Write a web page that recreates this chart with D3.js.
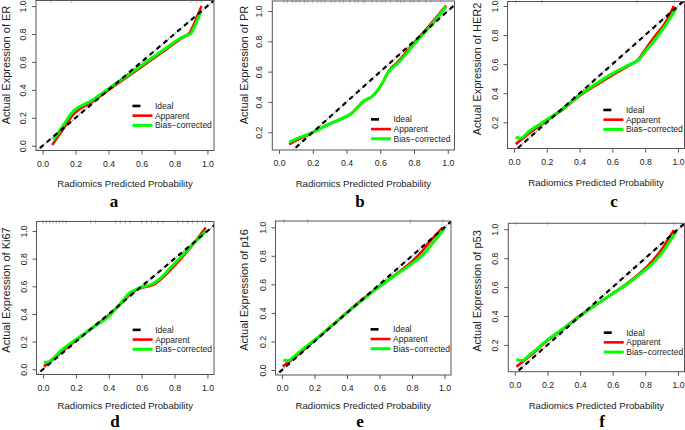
<!DOCTYPE html>
<html>
<head>
<meta charset="utf-8">
<script src="https://cdn.jsdelivr.net/npm/d3@7"></script>
<style>
  body { margin: 0; background: #fff; }
  svg { display: block; font-family: "Liberation Sans", Arial, sans-serif; }
</style>
</head>
<body>
<svg id="chart" width="685" height="430"></svg>
<script>
// ---- data ----
const xTicks = [0, 0.2, 0.4, 0.6, 0.8, 1.0];
const yTicksFull = [0, 0.2, 0.4, 0.6, 0.8, 1.0];
const yTicksUpper = [0.2, 0.4, 0.6, 0.8, 1.0];
const markers = ["ER", "PR", "HER2", "Ki67", "p16", "p53"];
const panelLetters = ["a", "b", "c", "d", "e", "f"];
const legendLabels = ["Ideal", "Apparent", "Bias\u2212corrected"];

const erApparent = [[0.058,0.005],[0.12,0.11],[0.18,0.215],[0.3,0.315],[0.45,0.44],[0.6,0.565],[0.75,0.69],[0.85,0.775],[0.893,0.81],[0.91,0.85],[0.964,1.0]];
const erBias = [[0.064,0.04],[0.12,0.135],[0.17,0.225],[0.3,0.325],[0.45,0.45],[0.6,0.575],[0.75,0.7],[0.85,0.78],[0.9,0.805],[0.92,0.85],[0.96,0.96]];
const erRug = [0.05, 0.175, 0.9, 0.935, 0.965];

const prApparent = [[0.06,0.12],[0.1,0.145],[0.2,0.2],[0.3,0.255],[0.4,0.305],[0.43,0.325],[0.47,0.37],[0.5,0.405],[0.55,0.435],[0.58,0.47],[0.62,0.54],[0.65,0.605],[0.7,0.66],[0.8,0.79],[0.9,0.915],[0.99,1.035]];
const prBias = [[0.06,0.135],[0.1,0.155],[0.2,0.2],[0.3,0.255],[0.4,0.305],[0.43,0.325],[0.47,0.37],[0.5,0.405],[0.55,0.435],[0.58,0.47],[0.62,0.54],[0.65,0.6],[0.7,0.65],[0.8,0.78],[0.9,0.905],[0.99,1.03]];
const prRug = [0.03,0.05,0.08,0.1,0.12,0.15,0.17,0.2,0.23,0.25,0.27,0.31,0.33,0.36,0.38,0.42,0.45,0.47,0.5,0.51,0.55,0.58,0.61,0.63,0.66,0.7,0.72,0.74,0.78,0.8,0.83,0.87,0.9,0.96];

const her2Apparent = [[0.01,0.05],[0.1,0.13],[0.19,0.205],[0.3,0.29],[0.39,0.375],[0.5,0.455],[0.6,0.525],[0.7,0.59],[0.76,0.635],[0.8,0.7],[0.865,0.8],[0.92,0.88],[0.975,1.0]];
const her2Bias = [[0.01,0.1],[0.035,0.09],[0.1,0.145],[0.19,0.21],[0.3,0.295],[0.39,0.38],[0.5,0.465],[0.6,0.535],[0.7,0.595],[0.76,0.63],[0.8,0.685],[0.865,0.775],[0.92,0.86],[0.99,0.985]];
const her2Rug = [0.01, 0.17, 0.75, 0.98];

const ki67Apparent = [[0.005,0.02],[0.1,0.115],[0.2,0.21],[0.3,0.3],[0.4,0.39],[0.47,0.47],[0.53,0.545],[0.58,0.58],[0.62,0.595],[0.67,0.61],[0.72,0.655],[0.8,0.75],[0.9,0.885],[0.99,1.025]];
const ki67Bias = [[0.005,0.05],[0.04,0.055],[0.1,0.125],[0.2,0.215],[0.3,0.3],[0.4,0.385],[0.47,0.475],[0.53,0.555],[0.58,0.585],[0.62,0.6],[0.67,0.62],[0.72,0.665],[0.8,0.765],[0.9,0.89],[0.99,1.0]];
const ki67Rug = [0.0,0.02,0.04,0.06,0.08,0.1,0.12,0.14,0.29,0.32,0.44,0.47,0.5,0.53,0.6,0.63,0.66,0.7,0.73,0.82,0.85,0.88,0.91,0.94,0.97,0.99];

const p16Apparent = [[0.005,0.025],[0.1,0.11],[0.2,0.205],[0.3,0.305],[0.4,0.405],[0.5,0.5],[0.6,0.585],[0.7,0.67],[0.8,0.76],[0.86,0.83],[0.91,0.9],[0.99,1.0]];
const p16Bias = [[0.008,0.068],[0.035,0.065],[0.1,0.12],[0.2,0.21],[0.3,0.305],[0.4,0.402],[0.5,0.495],[0.6,0.585],[0.7,0.665],[0.8,0.745],[0.86,0.8],[0.91,0.865],[1.0,0.995]];
const p16Rug = [0.012, 0.158, 0.79, 0.99];

const p53Apparent = [[0.01,0.05],[0.1,0.13],[0.2,0.23],[0.3,0.315],[0.4,0.405],[0.5,0.48],[0.6,0.555],[0.7,0.635],[0.78,0.71],[0.8,0.73],[0.85,0.79],[0.9,0.86],[0.975,0.995]];
const p53Bias = [[0.01,0.1],[0.04,0.092],[0.1,0.14],[0.2,0.235],[0.3,0.315],[0.4,0.4],[0.5,0.48],[0.6,0.555],[0.7,0.63],[0.79,0.71],[0.85,0.77],[0.9,0.835],[0.99,0.985]];
const p53Rug = [0.006, 0.2, 0.796, 0.975];

// ---- layout of the six plots (pixels) ----
const layout = [
  { l: 36,    r: 214,   t: 0.5,   b: 150.5, ylim: [-0.034, 1.04],  yt: yTicksFull,  ylabX: 6,   ylabY: 65,  xlabY: 186.5, letX: 114, letY: 207 },
  { l: 272.3, r: 454.5, t: 1,     b: 150,   ylim: [0.083, 1.066],  yt: yTicksUpper, ylabX: 244, ylabY: 65,  xlabY: 186.5, letX: 360, letY: 207 },
  { l: 507.5, r: 684.5, t: 1.5,   b: 148.5, ylim: [0.02, 1.031],   yt: yTicksUpper, ylabX: 477, ylabY: 69,  xlabY: 186,   letX: 614, letY: 207 },
  { l: 36.5,  r: 214,   t: 221.5, b: 374.5, ylim: [-0.038, 1.069], yt: yTicksFull,  ylabX: 6,   ylabY: 290, xlabY: 409,   letX: 115, letY: 427 },
  { l: 275.5, r: 451,   t: 221,   b: 375,   ylim: [-0.035, 1.044], yt: yTicksFull,  ylabX: 244, ylabY: 290, xlabY: 409,   letX: 360, letY: 427 },
  { l: 508.3, r: 684.5, t: 223.3, b: 371.7, ylim: [0.015, 1.041],  yt: yTicksUpper, ylabX: 477, ylabY: 291, xlabY: 408.5, letX: 602, letY: 427 }
];

const apparent = [erApparent, prApparent, her2Apparent, ki67Apparent, p16Apparent, p53Apparent];
const bias = [erBias, prBias, her2Bias, ki67Bias, p16Bias, p53Bias];
const rugs = [erRug, prRug, her2Rug, ki67Rug, p16Rug, p53Rug];

const svg = d3.select("#chart");
const fmt = d3.format(".1f");

layout.forEach((L, i) => {
  const g = svg.append("g");
  const x = d3.scaleLinear().domain([-0.04, 1.04]).range([L.l, L.r]);
  const y = d3.scaleLinear().domain(L.ylim).range([L.b, L.t]);

  const clipId = "clip" + i;
  svg.append("clipPath").attr("id", clipId)
    .append("rect")
    .attr("x", L.l).attr("y", L.t)
    .attr("width", L.r - L.l).attr("height", L.b - L.t);

  // rug of predicted values along the top edge
  g.selectAll(".rug")
    .data(rugs[i])
    .enter().append("line")
    .attr("x1", d => x(d)).attr("x2", d => x(d))
    .attr("y1", L.t - 2).attr("y2", L.t + 2.5)
    .attr("stroke", "#c4c4c4").attr("stroke-width", 1);

  const line = d3.line()
    .x(d => x(d[0]))
    .y(d => y(d[1]))
    .curve(d3.curveMonotoneX);

  const plot = g.append("g").attr("clip-path", `url(#${clipId})`);

  plot.append("path")
    .attr("d", line(apparent[i]))
    .attr("fill", "none").attr("stroke", "#ff0000")
    .attr("stroke-width", 2.6);

  plot.append("path")
    .attr("d", line(bias[i]))
    .attr("fill", "none").attr("stroke", "#00ff00")
    .attr("stroke-width", 3);

  // ideal diagonal: thin dotted line plus thick dashes
  plot.append("line")
    .attr("x1", x(-0.1)).attr("y1", y(-0.1))
    .attr("x2", x(1.2)).attr("y2", y(1.2))
    .attr("stroke", "#222").attr("stroke-width", 0.7)
    .attr("stroke-dasharray", "1.5,1.5");
  plot.append("line")
    .attr("x1", x(-0.1)).attr("y1", y(-0.1))
    .attr("x2", x(1.2)).attr("y2", y(1.2))
    .attr("stroke", "#000").attr("stroke-width", 2.2)
    .attr("stroke-dasharray", "5,4");

  // frame
  g.append("rect")
    .attr("x", L.l).attr("y", L.t)
    .attr("width", L.r - L.l).attr("height", L.b - L.t)
    .attr("fill", "none").attr("stroke", "#555").attr("stroke-width", 1);

  // x axis
  const xAxis = g.append("g")
    .attr("transform", `translate(0,${L.b})`)
    .call(d3.axisBottom(x).tickValues(xTicks).tickSize(4).tickPadding(6).tickFormat(fmt));
  xAxis.select(".domain").remove();
  xAxis.selectAll("line").attr("stroke", "#555");
  xAxis.selectAll("text")
    .attr("font-family", "Liberation Sans, Arial, sans-serif")
    .attr("font-size", 8.7).attr("fill", "#222");

  // y axis, labels parallel to the axis
  const yAxis = g.append("g")
    .attr("transform", `translate(${L.l},0)`)
    .call(d3.axisLeft(y).tickValues(L.yt).tickSize(4).tickFormat(fmt));
  yAxis.select(".domain").remove();
  yAxis.selectAll("line").attr("stroke", "#555");
  yAxis.selectAll("text")
    .attr("x", 0).attr("dy", 0)
    .attr("text-anchor", "middle")
    .attr("transform", "translate(-10,0) rotate(-90)")
    .attr("font-family", "Liberation Sans, Arial, sans-serif")
    .attr("font-size", 8.7).attr("fill", "#222");

  // axis titles
  g.append("text")
    .attr("x", (L.l + L.r) / 2).attr("y", L.xlabY)
    .attr("text-anchor", "middle")
    .attr("font-size", 9.6).attr("fill", "#222")
    .text("Radiomics Predicted Probability");

  g.append("text")
    .attr("transform", `translate(${L.ylabX + 4},${L.ylabY}) rotate(-90)`)
    .attr("text-anchor", "middle")
    .attr("font-size", 11).attr("fill", "#222")
    .text("Actual Expression of " + markers[i]);

  // panel letter
  g.append("text")
    .attr("x", L.letX).attr("y", L.letY)
    .attr("text-anchor", "middle")
    .attr("font-family", "Liberation Serif, Times New Roman, serif")
    .attr("font-weight", "bold").attr("font-size", 17)
    .attr("fill", "#000")
    .text(panelLetters[i]);

  // legend
  const lx = x(0.545);
  const ly = y(0.285);
  const legendStroke = [
    { c: "#000", w: 2.6, len: 8 },
    { c: "#ff0000", w: 2.6, len: 20 },
    { c: "#00ff00", w: 3, len: 20 }
  ];
  legendLabels.forEach((lab, k) => {
    const yy = ly + k * 9.7;
    g.append("line")
      .attr("x1", lx).attr("x2", lx + legendStroke[k].len)
      .attr("y1", yy).attr("y2", yy)
      .attr("stroke", legendStroke[k].c)
      .attr("stroke-width", legendStroke[k].w);
    g.append("text")
      .attr("x", lx + 22.5).attr("y", yy + 3)
      .attr("font-size", 8.5).attr("fill", "#222")
      .text(lab);
  });
});
</script>
</body>
</html>
